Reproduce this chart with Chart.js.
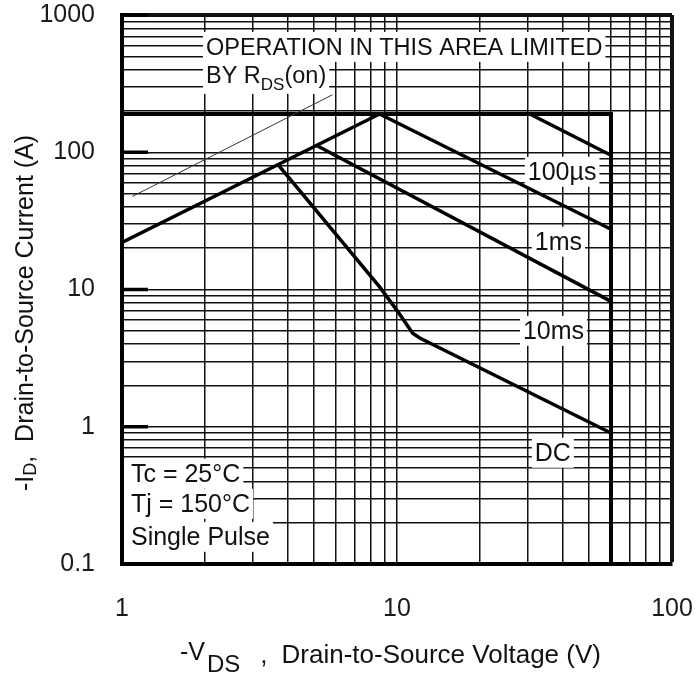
<!DOCTYPE html>
<html>
<head>
<meta charset="utf-8">
<script src="https://cdn.jsdelivr.net/npm/chart.js@4"></script>
<style>
  body { margin: 0; background: #fff; }
</style>
</head>
<body>
<canvas id="chart" width="697" height="675"></canvas>
<script>
// -VDS (V) and -ID (A)
const limitV = [1, 60, 60];
const limitI = [190, 190, 0.1];
const rdsV = [1, 8.64];
const rdsI = [22, 190];
const us100V = [30.4, 60];
const us100I = [190, 95];
const ms1V = [8.64, 60];
const ms1I = [190, 27.5];
const ms10V = [5.1, 60];
const ms10I = [112, 8.2];
const dcV = [3.7, 8.63, 10.07, 11.4, 12.1, 60];
const dcI = [81, 10.5, 6.9, 4.81, 4.43, 0.9];
const guideV = [1.09, 5.82];
const guideI = [47.6, 262];

const xTicks = [1, 2, 3, 4, 5, 6, 7, 8, 9, 10, 20, 30, 40, 50, 60, 70, 80, 90, 100];
const yTicks = [0.1, 0.2, 0.3, 0.4, 0.5, 0.6, 0.7, 0.8, 0.9,
                1, 2, 3, 4, 5, 6, 7, 8, 9,
                10, 20, 30, 40, 50, 60, 70, 80, 90,
                100, 200, 300, 400, 500, 600, 700, 800, 900, 1000];
const xLabels = [1, 10, 100];
const yLabels = [0.1, 1, 10, 100, 1000];

const FONT = '"Liberation Sans", Arial, Helvetica, sans-serif';
const INK = '#111';

// text notes, anchored at (voltage, current) = left edge / baseline
const notes = [
  { parts: [{ t: 'OPERATION IN THIS AREA LIMITED', size: 23.5 }], v: 2.02, i: 512 },
  { parts: [{ t: 'BY R', size: 23.5 }, { t: 'DS', size: 17, dy: 7 }, { t: '(on)', size: 23.5 }], v: 2.02, i: 320 },
  { parts: [{ t: '100µs', size: 25 }], v: 29.9, i: 63 },
  { parts: [{ t: '1ms', size: 25 }], v: 31.7, i: 19.5 },
  { parts: [{ t: '10ms', size: 25 }], v: 28.7, i: 4.37 },
  { parts: [{ t: 'DC', size: 25 }], v: 31.7, i: 0.565 },
  { parts: [{ t: 'Tc = 25°C', size: 25 }], v: 1.078, i: 0.398, edge: true },
  { parts: [{ t: 'Tj = 150°C', size: 25 }], v: 1.078, i: 0.24, edge: true },
  { parts: [{ t: 'Single Pulse', size: 25 }], v: 1.078, i: 0.138, edge: true }
];

const yTitle = [
  { t: '-I', size: 25 },
  { t: 'D', size: 18, dy: 3 },
  { t: ',  Drain-to-Source Current (A)', size: 25 }
];
const xTitle = [
  { t: '-V', size: 25, dy: -3, gap: 2 },
  { t: 'DS', size: 24, dy: 9, gap: 20 },
  { t: ',', size: 26, gap: 14 },
  { t: 'Drain-to-Source Voltage (V)', size: 26 }
];

function pts(xs, ys) {
  return xs.map((x, k) => ({ x: x, y: ys[k] }));
}

function drawRun(ctx, parts, x, y, draw) {
  let cx = x;
  for (const p of parts) {
    ctx.font = p.size + 'px ' + FONT;
    if (draw) ctx.fillText(p.t, cx, y + (p.dy || 0));
    cx += ctx.measureText(p.t).width + (p.gap || 0);
  }
  return cx - x;
}

const decorPlugin = {
  id: 'decor',
  beforeDatasetsDraw(chart) {
    const ctx = chart.ctx;
    const xs = chart.scales.x, ys = chart.scales.y;
    const area = chart.chartArea;
    ctx.save();
    ctx.textAlign = 'left';
    ctx.textBaseline = 'alphabetic';
    for (const n of notes) {
      const x = xs.getPixelForValue(n.v);
      const y = ys.getPixelForValue(n.i);
      const w = drawRun(ctx, n.parts, x, y, false);
      const hasSub = n.parts.some(p => p.dy);
      const x0 = n.edge ? area.left + 2 : x - 3;
      ctx.fillStyle = '#fff';
      ctx.fillRect(x0, y - 23, x + w + 3 - x0, (hasSub ? 34 : 30));
      ctx.fillStyle = INK;
      drawRun(ctx, n.parts, x, y, true);
    }
    ctx.restore();
  },
  afterDatasetsDraw(chart) {
    const ctx = chart.ctx;
    const ys = chart.scales.y;
    const area = chart.chartArea;
    ctx.save();
    ctx.fillStyle = '#000';
    for (const v of yLabels) {
      if (v === 0.1) continue;
      const y = ys.getPixelForValue(v);
      ctx.fillRect(area.left, y - 1.75, 26, 3.5);
    }
    ctx.restore();
  },
  afterDraw(chart) {
    const ctx = chart.ctx;
    ctx.save();
    ctx.fillStyle = INK;
    ctx.textAlign = 'left';
    ctx.textBaseline = 'alphabetic';
    ctx.translate(33, 491);
    ctx.rotate(-Math.PI / 2);
    drawRun(ctx, yTitle, 0, 0, true);
    ctx.restore();
    ctx.save();
    ctx.fillStyle = INK;
    drawRun(ctx, xTitle, 180, 663, true);
    ctx.restore();
  }
};

function line(data, width, color) {
  return {
    data: data,
    showLine: true,
    borderColor: color || '#000',
    borderWidth: width,
    pointRadius: 0,
    fill: false,
    tension: 0
  };
}

Chart.defaults.font.family = FONT;

new Chart(document.getElementById('chart'), {
  type: 'scatter',
  data: {
    datasets: [
      line(pts(guideV, guideI), 1, '#333'),
      line(pts(limitV, limitI), 4),
      line(pts(rdsV, rdsI), 3.5),
      line(pts(us100V, us100I), 3.5),
      line(pts(ms1V, ms1I), 3.5),
      line(pts(ms10V, ms10I), 3.5),
      line(pts(dcV, dcI), 3.5)
    ]
  },
  options: {
    responsive: false,
    animation: false,
    layout: { padding: { left: 22, right: 25, top: 15, bottom: 0 } },
    plugins: { legend: { display: false }, tooltip: { enabled: false } },
    scales: {
      x: {
        type: 'logarithmic',
        min: 1,
        max: 100,
        afterBuildTicks: (s) => { s.ticks = xTicks.map(v => ({ value: v })); },
        afterFit: (s) => { s.height = 111; s.paddingLeft = 0; s.paddingRight = 0; },
        grid: {
          color: '#111',
          lineWidth: (c) => (c.tick && c.tick.value === 100 ? 4 : 1.5),
          drawTicks: false
        },
        border: { display: true, color: '#000', width: 4 },
        ticks: {
          autoSkip: false,
          maxRotation: 0,
          minRotation: 0,
          padding: 30,
          color: '#1a1a1a',
          font: { size: 25 },
          callback: (v) => (xLabels.includes(v) ? String(v) : '')
        }
      },
      y: {
        type: 'logarithmic',
        min: 0.1,
        max: 1000,
        afterBuildTicks: (s) => { s.ticks = yTicks.map(v => ({ value: v })); },
        afterFit: (s) => { s.width = 100; s.paddingTop = 0; s.paddingBottom = 0; },
        grid: {
          color: '#111',
          lineWidth: (c) => (c.tick && c.tick.value === 1000 ? 4 : 1.5),
          drawTicks: false
        },
        border: { display: true, color: '#000', width: 4 },
        ticks: {
          autoSkip: false,
          padding: 27,
          color: '#1a1a1a',
          font: { size: 25 },
          callback: (v) => (yLabels.includes(v) ? String(v) : '')
        }
      }
    }
  },
  plugins: [decorPlugin]
});
</script>
</body>
</html>
